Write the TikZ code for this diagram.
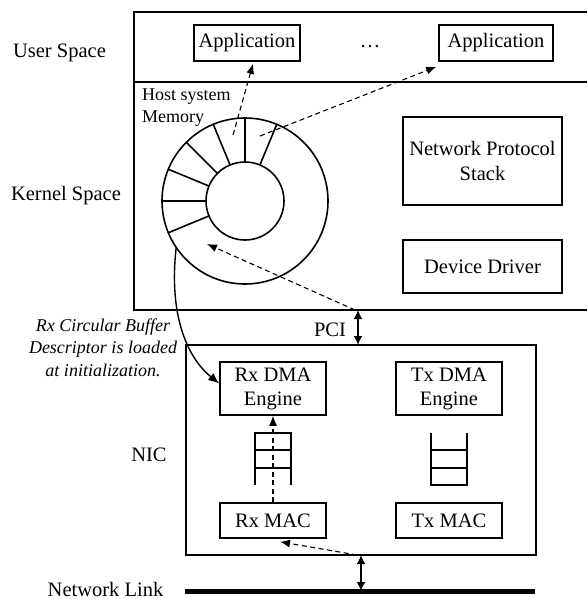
\documentclass[tikz,border=0pt]{standalone}
\usepackage{fontspec}
\setmainfont{Liberation Serif}
\usetikzlibrary{arrows.meta,calc}
\begin{document}
\begin{tikzpicture}[x=1pt,y=-1pt,
  bx/.style={draw,line width=1.6pt,inner sep=0pt,align=center,font=\fontsize{20.5pt}{24pt}\selectfont},
  lbl/.style={inner sep=0pt,font=\fontsize{20.5pt}{24pt}\selectfont},
  sm/.style={inner sep=0pt,font=\fontsize{18pt}{21pt}\selectfont},
  smit/.style={inner sep=0pt,font=\fontsize{18pt}{21pt}\selectfont\itshape},
  frame/.style={line width=1.6pt},
  dsh/.style={line width=1.1pt,dash pattern=on 5pt off 3.5pt,-{Latex[length=10pt,width=8pt]}},
  dbl/.style={line width=2.2pt,{Latex[length=9pt,width=9pt]}-{Latex[length=9pt,width=9pt]}},
]
\useasboundingbox (0,0) rectangle (587,599);
% host frame
\draw[frame] (587,12) -- (134,12) -- (134,310) -- (587,310);
\draw[frame] (134,82) -- (587,82);
% side labels
\node[lbl,anchor=base] (us) at (59.5,58) {User Space};
\node[lbl,anchor=base] (ks) at (66,200) {Kernel Space};
\node[lbl,anchor=base] (nicl) at (149,461) {NIC};
\node[lbl,anchor=base] (nl) at (105.5,596) {Network Link};
\node[lbl,anchor=base] (pci) at (330,336) {PCI};
% applications
\node[bx,minimum width=106pt,minimum height=36pt] (app1) at (247,43) {Application};
\node[bx,minimum width=114pt,minimum height=36pt] (app2) at (496,43) {Application};
\node[lbl] (dots) at (370,47) {\ldots};
% kernel boxes
\node[sm,anchor=base west] (host1) at (142,101) {Host system};
\node[sm,anchor=base west] (host2) at (142,122) {Memory};
\node[bx,minimum width=159pt,minimum height=88pt,font=\fontsize{20.5pt}{25pt}\selectfont] (nps) at (482.5,161) {Network Protocol\\Stack};
\node[bx,minimum width=159pt,minimum height=53pt] (drv) at (482.5,266.5) {Device Driver};
% ring buffer
\coordinate (rc) at (245,201);
\draw[frame] (rc) circle[radius=83pt];
\draw[frame] (rc) circle[radius=39pt];
\foreach \a in {67.5,90,112.5,135,157.5,180,202.5}
  \draw[frame] ($(rc)+(\a:39pt)$) -- ($(rc)+(\a:83pt)$);
% NIC
\draw[frame] (186,345) rectangle (536,555);
\node[bx,minimum width=106pt,minimum height=53pt] (rxdma) at (273,388.5) {Rx DMA\\Engine};
\node[bx,minimum width=106pt,minimum height=53pt] (txdma) at (449,388.5) {Tx DMA\\Engine};
\node[bx,minimum width=106pt,minimum height=35pt] (rxmac) at (273,520.5) {Rx MAC};
\node[bx,minimum width=106pt,minimum height=35pt] (txmac) at (449,520.5) {Tx MAC};
% queues
\draw[frame] (255,485) -- (255,433) -- (291,433) -- (291,485);
\draw[frame] (255,450) -- (291,450) (255,468) -- (291,468);
\draw[frame] (431,433) -- (431,485) -- (467,485) -- (467,433);
\draw[frame] (431,450) -- (467,450) (431,468) -- (467,468);
% network link
\coordinate (nlL) at (185,591);
\coordinate (nlR) at (535,591);
\draw[line width=5pt] (nlL) -- (nlR);
% italic note
\node[smit,anchor=base] (n1) at (103,331) {Rx Circular Buffer};
\node[smit,anchor=base] (n2) at (103,353.5) {Descriptor is loaded};
\node[smit,anchor=base] (n3) at (103,376) {at initialization.};
% connectors
\coordinate (pciT) at (358,310);
\coordinate (pciB) at (358,345);
\draw[dbl] (pciT) -- (pciB);
\coordinate (nicB) at (361,555);
\draw[dbl] (nicB) -- (361,591);
\coordinate (s1) at (233,135);
\coordinate (s2) at (260,136);
\coordinate (rin) at (207,244);
\coordinate (rout) at ($(rc)+(214:83pt)$);
\draw[dsh] (s1) -- ($(app1.south)+(6,2)$);
\draw[dsh] (s2) -- ($(app2.south west)+(-2,5)$);
\draw[dsh] ($(pciT)+(-3,0)$) -- (rin);
\draw[line width=1.4pt,-{Latex[length=11pt,width=9pt]}] (rout) .. controls (168,320) and (190,360) .. ($(rxdma.west)+(0,-5)$);
\draw[dsh] (rxmac.north) -- (rxdma.south);
\draw[dsh] ($(nicB)+(-4,0)$) -- ($(rxmac.south)+(7,3)$);
\end{tikzpicture}
\end{document}
